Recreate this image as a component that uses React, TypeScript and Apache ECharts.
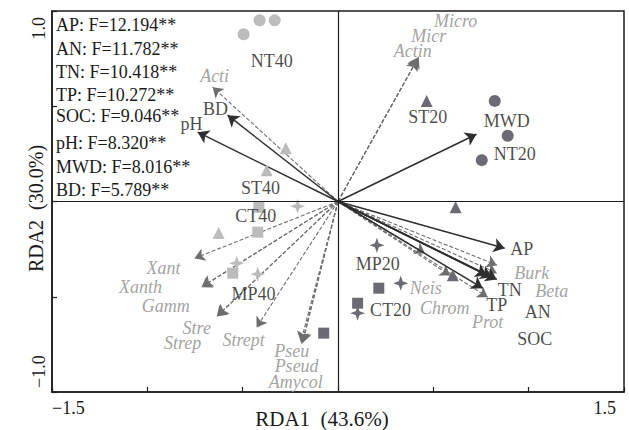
import React, { useEffect, useRef } from 'react';
import * as echarts from 'echarts';

// ---- Data ----
const fStats = ['AP: F=12.194**', 'AN: F=11.782**', 'TN: F=10.418**', 'TP: F=10.272**', 'SOC: F=9.046**', 'pH: F=8.320**', 'MWD: F=8.016**', 'BD: F=5.789**'];

const envNames = ['pH', 'BD', 'MWD', 'AP', 'TN', 'AN', 'SOC', 'TP'];
const envRDA1 = [-0.736, -0.579, 0.726, 0.874, 0.806, 0.833, 0.780, 0.759];
const envRDA2 = [0.364, 0.453, 0.353, -0.245, -0.398, -0.409, -0.387, -0.455];

const speciesNames = ['Acti', 'Micro', 'Micr', 'Actin', 'Xant', 'Xanth', 'Gamm', 'Stre', 'Strep', 'Strept', 'Pseu', 'Pseud', 'Amycol', 'Neis', 'Chrom', 'Burk', 'Beta', 'Prot'];
const speciesRDA1 = [-0.657, 0.423, 0.418, 0.413, -0.752, -0.716, -0.710, -0.636, -0.630, -0.427, -0.190, -0.185, -0.195, 0.456, 0.588, 0.833, 0.833, 0.785];
const speciesRDA2 = [0.600, 0.758, 0.750, 0.742, -0.298, -0.450, -0.445, -0.604, -0.598, -0.661, -0.746, -0.740, -0.735, -0.271, -0.388, -0.334, -0.376, -0.502];

const sampleGroups = ['NT40', 'ST40', 'CT40', 'MP40', 'NT20', 'ST20', 'CT20', 'MP20'];
const sampleRDA1 = [
  [-0.495, -0.411, -0.332],
  [-0.274, -0.374, -0.626],
  [-0.415, -0.421, -0.552],
  [-0.212, -0.531, -0.421],
  [0.822, 0.890, 0.754],
  [0.465, 0.617, 0.602],
  [0.214, 0.103, -0.075],
  [0.204, 0.329, 0.103],
];
const sampleRDA2 = [
  [0.878, 0.951, 0.951],
  [0.280, 0.164, -0.166],
  [-0.030, -0.161, -0.376],
  [-0.025, -0.324, -0.381],
  [0.528, 0.345, 0.217],
  [0.528, -0.030, -0.387],
  [-0.455, -0.534, -0.691],
  [-0.230, -0.429, -0.586],
];

const xTickLabels = ['−1.5', '1.5'];
const yTickLabels = ['−1.0', '1.0'];

// ---- Layout (label anchors in axis units, text rows in px) ----
const fStatsY = [26, 50, 73, 96, 117, 144, 168, 191];
const envLabelAt = [
  [-0.768, 0.406], [-0.642, 0.484], [0.885, 0.420], [0.964, -0.250],
  [0.901, -0.465], [1.048, -0.581], [1.032, -0.723], [0.833, -0.544],
];
const speciesLabelAt = [
  [-0.647, 0.657], [0.617, 0.946], [0.476, 0.867], [0.392, 0.788],
  [-0.915, -0.350], [-1.036, -0.450], [-0.904, -0.549], [-0.741, -0.665],
  [-0.815, -0.743], [-0.495, -0.728], [-0.243, -0.784], [-0.217, -0.864],
  [-0.222, -0.948], [0.460, -0.455], [0.560, -0.560], [1.016, -0.376],
  [1.121, -0.470], [0.785, -0.633],
];
const sampleLabelAt = [
  [-0.348, 0.736], [-0.406, 0.070], [-0.432, -0.077], [-0.443, -0.486],
  [0.927, 0.248], [0.471, 0.442], [0.276, -0.570], [0.208, -0.329],
];

const FONT = "'Liberation Serif', 'Times New Roman', serif";
const LIGHT = '#bcbcbc';
const DARK = '#6c6a73';
const STAR = 'path://M10,0 L12.6,7.4 L20,10 L12.6,12.6 L10,20 L7.4,12.6 L0,10 L7.4,7.4 Z';
const groupSymbol = ['circle', 'triangle', 'rect', STAR, 'circle', 'triangle', 'rect', STAR];
const groupSize = [12, 12, 11, 15, 12, 12, 11, 15];

function buildOption() {
  const series: any[] = [];

  // zero lines
  series.push({
    type: 'scatter',
    data: [],
    z: 1,
    markLine: {
      silent: true,
      symbol: ['none', 'none'],
      label: { show: false },
      lineStyle: { color: '#1e1e1e', width: 1.2, type: 'solid' },
      data: [{ xAxis: 0 }, { yAxis: 0 }],
    },
  });

  // species arrows (dashed)
  series.push({
    type: 'lines',
    coordinateSystem: 'cartesian2d',
    z: 2,
    symbol: ['none', 'arrow'],
    symbolSize: 10,
    lineStyle: { color: '#6e6e6e', width: 1.1, type: [4, 2], opacity: 1 },
    data: speciesNames.map((n, i) => ({ name: n, coords: [[0, 0], [speciesRDA1[i], speciesRDA2[i]]] })),
  });

  // environmental arrows (solid)
  series.push({
    type: 'lines',
    coordinateSystem: 'cartesian2d',
    z: 3,
    symbol: ['none', 'arrow'],
    symbolSize: 11,
    lineStyle: { color: '#2e2e2e', width: 1.5, type: 'solid', opacity: 1 },
    data: envNames.map((n, i) => ({ name: n, coords: [[0, 0], [envRDA1[i], envRDA2[i]]] })),
  });

  // samples
  sampleGroups.forEach((g, gi) => {
    series.push({
      type: 'scatter',
      name: g,
      z: 4,
      symbol: groupSymbol[gi],
      symbolSize: groupSize[gi],
      itemStyle: { color: gi < 4 ? LIGHT : DARK, opacity: 1 },
      data: sampleRDA1[gi].map((x, k) => [x, sampleRDA2[gi][k]]),
    });
  });

  const textSeries = (names: string[], at: number[][], style: any) => ({
    type: 'scatter',
    z: 5,
    symbolSize: 1,
    itemStyle: { color: 'rgba(0,0,0,0)' },
    label: {
      show: true,
      position: 'inside',
      formatter: '{b}',
      fontFamily: FONT,
      fontSize: 18,
      ...style,
    },
    data: names.map((n, i) => ({ name: n, value: at[i] })),
  });

  series.push(textSeries(speciesNames, speciesLabelAt, { color: '#8a8a8a', fontStyle: 'italic' }));
  series.push(textSeries(envNames, envLabelAt, { color: '#1a1a1a' }));
  series.push(textSeries(sampleGroups, sampleLabelAt, { color: '#1a1a1a' }));

  return {
    animation: false,
    backgroundColor: '#ffffff',
    grid: {
      left: 52,
      right: 5,
      top: 11,
      bottom: 38,
      containLabel: false,
      outerBoundsMode: 'none',
      show: true,
      borderColor: '#1e1e1e',
      borderWidth: 1.5,
      backgroundColor: 'transparent',
    },
    xAxis: {
      type: 'value',
      min: -1.5,
      max: 1.5,
      interval: 0.5,
      splitLine: { show: false },
      axisLine: { show: true, onZero: false, lineStyle: { color: '#1e1e1e', width: 1.5 } },
      axisTick: { show: true, inside: true, length: 5, lineStyle: { color: '#1e1e1e', width: 1.2 } },
      axisLabel: {
        show: true,
        showMinLabel: true,
        showMaxLabel: true,
        margin: 7,
        fontFamily: FONT,
        fontSize: 18,
        color: '#1a1a1a',
        alignMinLabel: 'left',
        alignMaxLabel: 'right',
        padding: [0, 8, 0, 0],
        formatter: (v: number) => (v === -1.5 ? xTickLabels[0] : v === 1.5 ? xTickLabels[1] : ''),
      },
      name: 'RDA1  (43.6%)',
      nameLocation: 'middle',
      nameGap: 16,
      nameMoveOverlap: false,
      nameTextStyle: { fontFamily: FONT, fontSize: 21, color: '#1a1a1a', padding: [0, 32, 0, 0] },
    },
    yAxis: {
      type: 'value',
      min: -1,
      max: 1,
      interval: 0.5,
      splitLine: { show: false },
      axisLine: { show: true, onZero: false, lineStyle: { color: '#1e1e1e', width: 1.5 } },
      axisTick: { show: true, inside: true, length: 5, lineStyle: { color: '#1e1e1e', width: 1.2 } },
      axisLabel: {
        show: true,
        showMinLabel: true,
        showMaxLabel: true,
        rotate: 90,
        margin: 4,
        fontFamily: FONT,
        fontSize: 18,
        color: '#1a1a1a',
        alignMinLabel: 'left',
        alignMaxLabel: 'right',
        padding: [0, 6, 0, 4],
        formatter: (v: number) => (v === -1 ? yTickLabels[0] : v === 1 ? yTickLabels[1] : ''),
      },
      name: 'RDA2  (30.0%)',
      nameLocation: 'middle',
      nameGap: 6,
      nameMoveOverlap: false,
      nameTextStyle: { fontFamily: FONT, fontSize: 20, color: '#1a1a1a', padding: [0, 14, 0, 0] },
    },
    graphic: fStats.map((t, i) => ({
      type: 'text',
      left: 56,
      top: fStatsY[i] - 10,
      z: 10,
      style: {
        text: t,
        fontSize: 18,
        fontFamily: FONT,
        fill: '#1a1a1a',
      },
    })),
    series,
  };
}

export default function App() {
  const ref = useRef<HTMLDivElement>(null);
  useEffect(() => {
    document.body.style.margin = '0';
    const chart = echarts.init(ref.current!, null, { renderer: 'svg' });
    chart.setOption(buildOption() as any);
    return () => chart.dispose();
  }, []);
  return <div ref={ref} style={{ width: 629, height: 430 }} />;
}
